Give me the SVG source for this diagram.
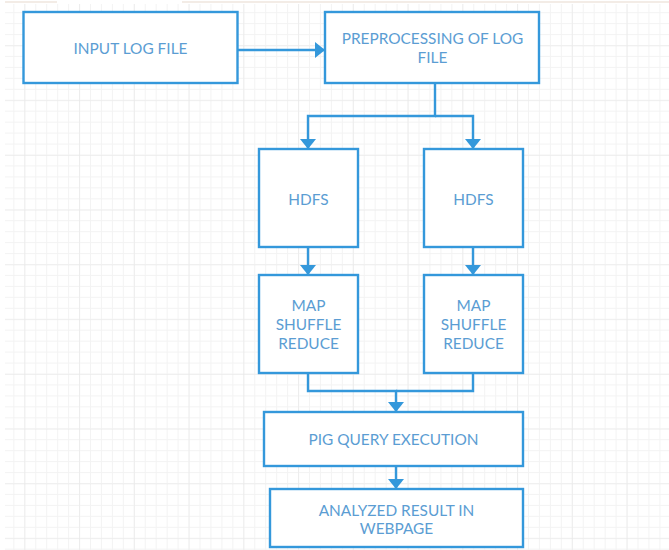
<svg xmlns="http://www.w3.org/2000/svg" width="669" height="550" viewBox="0 0 669 550">
  <defs>
    <pattern id="minor" patternUnits="userSpaceOnUse" x="2.4" y="1.2" width="10.95" height="10.95">
      <path d="M0 0.5 H10.95 M0.5 0 V10.95" stroke="#f3f3f3" stroke-width="1" fill="none"/>
    </pattern>
    <pattern id="major" patternUnits="userSpaceOnUse" x="24.3" y="45.45" width="54.75" height="54.75">
      <path d="M0 0 H54.75 M0 0 V54.75" stroke="#e8e8e8" stroke-width="1.2" fill="none"/>
    </pattern>
    <marker id="arr" markerUnits="userSpaceOnUse" markerWidth="12" markerHeight="18" refX="10" refY="8" orient="auto">
      <path d="M0 0 L10 8 L0 16 Z" fill="#3498db"/>
    </marker>
    <style>
      .box { fill: #ffffff; stroke: #3498db; stroke-width: 2.4; }
      .lbl { font-family: Lato, "Liberation Sans", sans-serif; font-size: 15.4px; fill: #5b9dd3; text-anchor: middle; }
      .con { fill: none; stroke: #3498db; stroke-width: 2.4; }
    </style>
  </defs>
  <rect x="0" y="0" width="669" height="550" fill="#ffffff"/>
  <rect x="5" y="4" width="664" height="546" fill="url(#minor)"/>
  <rect x="5" y="4" width="664" height="546" fill="url(#major)"/>
  <path d="M5 2 H57 M182 2 H669" stroke="#f3ece6" stroke-width="2"/>

  <g id="connectors">
    <line class="con" x1="238" y1="50" x2="325" y2="50" marker-end="url(#arr)"/>
    <path class="con" d="M435 83 V116 H308 V149" marker-end="url(#arr)"/>
    <path class="con" d="M435 116 H473 V149" marker-end="url(#arr)"/>
    <line class="con" x1="308" y1="247" x2="308" y2="275" marker-end="url(#arr)"/>
    <line class="con" x1="473" y1="247" x2="473" y2="275" marker-end="url(#arr)"/>
    <path class="con" d="M308 373 V391 H396 V412" marker-end="url(#arr)"/>
    <path class="con" d="M473 373 V391 H396"/>
    <line class="con" x1="396" y1="466" x2="396" y2="489" marker-end="url(#arr)"/>
  </g>

  <g id="input">
    <rect class="box" x="23.5" y="12" width="214" height="71"/>
    <text class="lbl" x="130.5" y="53.5">INPUT LOG FILE</text>
  </g>
  <g id="preprocessing">
    <rect class="box" x="325" y="12" width="214" height="71"/>
    <text class="lbl" x="432.5" y="43.5">PREPROCESSING OF LOG</text>
    <text class="lbl" x="432.5" y="62.5">FILE</text>
  </g>
  <g id="hdfs1">
    <rect class="box" x="259" y="149" width="99" height="98"/>
    <text class="lbl" x="308.5" y="204.5">HDFS</text>
  </g>
  <g id="hdfs2">
    <rect class="box" x="424" y="149" width="99" height="98"/>
    <text class="lbl" x="473.5" y="204.5">HDFS</text>
  </g>
  <g id="mapreduce1">
    <rect class="box" x="259" y="275" width="99" height="98"/>
    <text class="lbl" x="308.5" y="310.5">MAP</text>
    <text class="lbl" x="308.5" y="329.5">SHUFFLE</text>
    <text class="lbl" x="308.5" y="348.5">REDUCE</text>
  </g>
  <g id="mapreduce2">
    <rect class="box" x="424" y="275" width="99" height="98"/>
    <text class="lbl" x="473.5" y="310.5">MAP</text>
    <text class="lbl" x="473.5" y="329.5">SHUFFLE</text>
    <text class="lbl" x="473.5" y="348.5">REDUCE</text>
  </g>
  <g id="pig">
    <rect class="box" x="264" y="412" width="259" height="54"/>
    <text class="lbl" x="393.5" y="444.5">PIG QUERY EXECUTION</text>
  </g>
  <g id="result">
    <rect class="box" x="270" y="489" width="253" height="58"/>
    <text class="lbl" x="396.5" y="515.5">ANALYZED RESULT IN</text>
    <text class="lbl" x="396.5" y="533.5">WEBPAGE</text>
  </g>
</svg>
